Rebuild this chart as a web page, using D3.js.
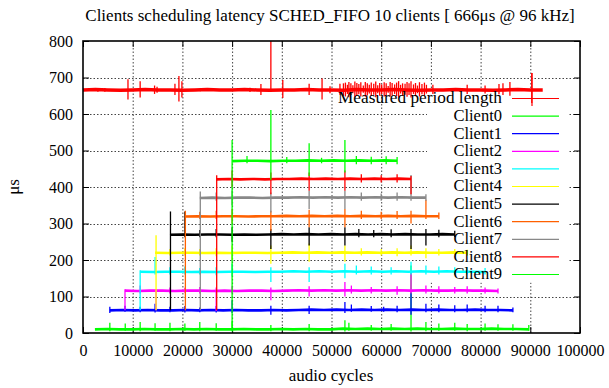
<!DOCTYPE html>
<html><head><meta charset="utf-8">
<script src="https://cdn.jsdelivr.net/npm/d3@7"></script>
<style>body{margin:0;background:#fff}svg{display:block}</style>
</head><body>
<script>
const titleText = "Clients scheduling latency SCHED_FIFO 10 clients [ 666μs @ 96 kHz]";
const xLabel = "audio cycles";
const yLabel = "μs";
const xTicks = [0,10000,20000,30000,40000,50000,60000,70000,80000,90000,100000];
const yTicks = [0,100,200,300,400,500,600,700,800];
const seriesNames = ["Measured period length","Client0","Client1","Client2","Client3","Client4","Client5","Client6","Client7","Client8","Client9"];
const seriesColors = ["#ff0000","#00ff00","#0000ff","#ff00ff","#00ffff","#ffff00","#000000","#ff6000","#888888","#ff0000","#00ff00"];
// first / last audio cycle of each series
const seriesStart = [0,2400,5400,8450,11500,14500,17500,20500,23500,26800,30000];
const seriesEnd = [92500,89700,86500,83500,80900,77300,74800,71600,69000,66000,63200];
// mean latency samples (evenly spaced between start and end)
const measuredValues = [666,667,666,665,666,667,666,666,665,666,667,666,666,667,666,665,666,666,667,666,666,665,667,666,666,667,666,665,666,666,667,666,666,665,666,667,666,666];
const client0Values = [10,11,10,10,11,10,10,11,10,11,10,10,11,10,10,11,10,11,10,10,12,11,12,11,12,11,12,11,11,12,11,11,12,11,11,10];
const client1Values = [62,63,62,63,62,62,63,62,63,62,63,62,62,63,62,63,64,63,64,63,64,63,64,63,64,63,64,63,63,64,63,63,62];
const client2Values = [116,115,116,116,115,116,116,115,116,115,116,116,115,116,117,116,117,116,117,116,117,116,117,116,117,116,116,117,116,116,115];
const client3Values = [168,167,168,168,167,168,167,168,168,167,168,168,169,168,169,168,169,168,169,168,169,168,169,168,169,168,168,167];
const client4Values = [220,219,220,220,219,220,219,220,220,219,220,221,220,221,220,221,220,221,220,221,220,221,220,220,221,220];
const client5Values = [269,270,269,270,270,269,270,269,270,271,270,271,270,271,270,271,270,271,270,271,270,270,271,270];
const client6Values = [319,320,319,320,320,319,320,320,321,320,321,320,321,320,321,320,321,320,321,320,320];
const client7Values = [370,371,370,371,371,370,371,371,372,371,372,371,372,371,372,371,372,371,371];
const client8Values = [421,422,421,422,421,422,422,423,422,423,422,423,422,423,422,423,422];
const client9Values = [471,472,472,471,472,472,473,472,473,472,473,472,473,472];
// error bars: [cycle, min, max]
const measuredBars = [[3000,661,671],[4400,661,671],[9050,640,695],[11500,645,690],[14400,655,678],[14900,658,675],[18500,652,683],[19300,634,704],[19900,645,690],[23600,662,670],[33600,660,672],[35800,652,682],[37800,660,830],[40200,644,693],[45500,652,683],[48100,640,697],[49700,657,676],[51700,653,683],
[52400,650,684],[52800,648,686],[53200,655,680],[53500,646,688],[53900,652,684],[54300,657,679],[54700,645,689],[55100,650,685],[55500,654,682],[55900,648,687],[56400,658,678],[56800,647,688],[57200,651,684],[57600,656,680],[58000,649,686],[58500,653,683],[58900,646,689],[59300,657,679],[59700,650,685],[60100,655,681],[60600,648,687],[61000,652,684],[61400,658,677],[61800,647,688],[62200,651,685],[62700,655,681],[63100,649,686],[63500,645,690],[63900,656,680],[64300,650,684],[64800,653,683],[65200,647,688],[65600,652,684],[66000,645,690],[66500,655,681],[66900,650,685],[67300,657,678],[67700,648,687],[68200,654,682],[68700,650,686],[69100,656,680],
[70400,655,680],[77300,655,680],[80900,656,678],[83700,654,682],[84500,652,684],[85900,650,688],[90300,630,712]];
const client0Bars = [[5400,5,28],[8500,6,26],[11500,5,30],[14500,6,27],[17500,5,28],[20500,6,26],[23500,5,30],[26800,6,27],[30000,4,32],[37800,5,22],[45500,5,25],[52700,4,35],[53500,6,28],[58000,6,22],[62000,6,25],[66000,4,185],[69000,5,30],[71600,6,26],[74800,6,28],[77300,5,25],[80900,6,26],[83500,6,24],[86500,6,24],[89700,6,22]];
const client1Bars = [[5400,55,72],[8450,58,75],[11500,57,72],[14500,56,80],[17500,57,72],[20500,56,74],[23500,57,70],[26800,56,74],[30000,55,90],[37800,50,75],[45500,52,75],[52700,55,85],[54000,58,78],[58000,58,74],[60500,58,72],[63200,57,75],[66000,50,110],[69000,57,80],[71600,57,78],[74800,57,76],[77300,57,78],[80900,57,75],[83500,57,75],[86500,57,70]];
const client2Bars = [[8450,62,120],[11500,108,130],[14700,62,120],[17500,108,125],[20500,110,124],[23500,108,126],[26800,60,125],[30000,108,128],[37800,90,125],[45500,100,128],[52700,100,140],[54000,108,130],[58000,108,126],[63200,105,128],[66000,108,165],[69000,108,130],[71600,108,128],[74800,108,126],[77300,108,128],[80900,108,125],[83500,108,122]];
const client3Bars = [[11500,62,172],[14500,160,208],[17500,160,180],[20500,160,182],[23500,160,178],[26800,158,180],[30000,155,190],[37800,140,180],[45500,140,180],[52700,150,190],[55000,160,185],[58000,160,182],[62000,160,180],[66000,160,195],[69000,160,185],[71600,160,182],[74800,160,180],[77300,160,180],[80900,160,178]];
const client4Bars = [[14700,62,268],[17500,212,230],[20500,212,232],[23500,212,230],[26800,210,232],[30000,200,240],[37800,190,240],[45500,195,245],[52700,195,240],[56000,212,232],[60000,212,230],[63200,210,232],[66000,212,240],[69000,205,232],[71600,212,230],[74800,212,230],[77300,212,228]];
const client5Bars = [[17600,62,333],[20500,262,333],[23500,262,282],[26800,262,285],[30000,250,290],[37800,230,285],[45500,240,290],[52700,240,290],[55500,262,285],[58500,262,282],[62000,262,284],[66000,230,285],[69000,240,285],[71600,262,283],[74800,262,280]];
const client6Bars = [[20600,62,335],[23500,312,332],[26800,312,335],[30000,300,340],[37800,280,335],[45500,290,338],[52700,290,340],[56000,312,335],[60000,312,332],[63200,312,334],[66000,300,335],[69000,312,365],[71600,312,330]];
const client7Bars = [[23600,62,388],[26800,362,385],[30000,350,390],[37800,330,385],[45500,340,390],[52700,340,390],[56000,362,385],[60000,362,382],[63200,362,385],[66000,362,433],[69000,362,380]];
const client8Bars = [[26900,62,432],[30000,400,445],[37800,380,440],[45500,390,440],[52700,390,445],[56000,412,435],[60000,412,432],[63200,412,435],[66000,380,430]];
const client9Bars = [[30000,10,529],[33000,465,485],[37800,420,611],[41000,465,482],[45500,430,520],[48000,465,480],[52700,440,529],[55000,462,485],[58000,462,483],[61000,462,484],[63200,462,482]];

const seriesValues = [measuredValues,client0Values,client1Values,client2Values,client3Values,client4Values,client5Values,client6Values,client7Values,client8Values,client9Values];
const seriesBars = [measuredBars,client0Bars,client1Bars,client2Bars,client3Bars,client4Bars,client5Bars,client6Bars,client7Bars,client8Bars,client9Bars];

const W = 609, H = 388;
const m = {left:83, right:29, top:41, bottom:55};
const iw = W - m.left - m.right, ih = H - m.top - m.bottom;
const x = d3.scaleLinear().domain([0,100000]).range([m.left, m.left+iw]);
const y = d3.scaleLinear().domain([0,800]).range([m.top+ih, m.top]);
const FONT = "Liberation Serif";

const svg = d3.select("body").append("svg").attr("width",W).attr("height",H);
svg.append("rect").attr("width",W).attr("height",H).attr("fill","#fff");
svg.append("defs").append("clipPath").attr("id","clip").append("rect")
  .attr("x",m.left).attr("y",m.top).attr("width",iw).attr("height",ih);

// grid
const grid = svg.append("g").attr("stroke","#444").attr("stroke-width",1).attr("stroke-dasharray","1.5,2");
grid.selectAll(".gx").data(xTicks.slice(1,-1)).join("line")
  .attr("x1",d=>x(d)+0.5).attr("x2",d=>x(d)+0.5).attr("y1",m.top).attr("y2",m.top+ih);
grid.selectAll(".gy").data(yTicks.slice(1,-1)).join("line")
  .attr("y1",d=>Math.round(y(d))+0.5).attr("y2",d=>Math.round(y(d))+0.5).attr("x1",m.left).attr("x2",m.left+iw);

// opaque key background
const keyX = 427, keyTop = 88, keyRowH = 17.6;
svg.append("rect").attr("x",keyX).attr("y",keyTop).attr("width",141).attr("height",keyRowH*11+1).attr("fill","#fff");

// axes: inward ticks, mirrored
const axB = svg.append("g").attr("transform",`translate(0,${m.top+ih})`)
  .call(d3.axisBottom(x).tickValues(xTicks).tickSize(-6).tickPadding(12).tickFormat(d3.format("d")));
const axT = svg.append("g").attr("transform",`translate(0,${m.top})`)
  .call(d3.axisTop(x).tickValues(xTicks).tickSize(-6).tickFormat(""));
const axL = svg.append("g").attr("transform",`translate(${m.left},0)`)
  .call(d3.axisLeft(y).tickValues(yTicks).tickSize(-6).tickPadding(12).tickFormat(d3.format("d")));
const axR = svg.append("g").attr("transform",`translate(${m.left+iw},0)`)
  .call(d3.axisRight(y).tickValues(yTicks).tickSize(-6).tickFormat(""));
[axB,axT,axL,axR].forEach(g=>{
  g.select(".domain").remove();
  g.attr("font-family",FONT).attr("font-size",16);
  g.selectAll("line").attr("stroke","#000").attr("stroke-width",1);
});
axB.selectAll("text").attr("dy","0.71em");
axL.selectAll("text").attr("x",-10);

// data series with error bars
const plot = svg.append("g").attr("clip-path","url(#clip)");
seriesValues.forEach((vals,i)=>{
  const s = seriesStart[i], e = seriesEnd[i], n = vals.length;
  const pts = vals.map((v,k)=>[s + k*(e-s)/(n-1), v]);
  const g = plot.append("g");
  g.selectAll("line").data(seriesBars[i]).join("line")
    .attr("x1",d=>x(d[0])).attr("x2",d=>x(d[0]))
    .attr("y1",d=>y(d[1])).attr("y2",d=>y(d[2]))
    .attr("stroke",seriesColors[i]).attr("stroke-width",1.3);
  g.append("path").datum(pts)
    .attr("d",d3.line().x(d=>x(d[0])).y(d=>y(d[1])))
    .attr("fill","none").attr("stroke",seriesColors[i]).attr("stroke-width", i===0?3.5:2.6);
});

// frame
svg.append("rect").attr("x",m.left).attr("y",m.top).attr("width",iw).attr("height",ih)
  .attr("fill","none").attr("stroke","#000").attr("stroke-width",1.6);

// key
const key = svg.append("g").attr("font-family",FONT).attr("font-size",16.5);
seriesNames.forEach((nm,i)=>{
  const cy = 98 + i*keyRowH;
  key.append("text").attr("x",502).attr("y",cy).attr("dy","0.33em").attr("text-anchor","end")
    .attr("textLength", i===0 ? 164 : null).attr("lengthAdjust","spacingAndGlyphs").text(nm);
  key.append("line").attr("x1",512).attr("x2",559).attr("y1",cy+0.5).attr("y2",cy+0.5)
    .attr("stroke",seriesColors[i]).attr("stroke-width",1.2);
  if(i===0){
    key.append("line").attr("x1",532).attr("x2",532).attr("y1",cy-25).attr("y2",cy+8)
      .attr("stroke",seriesColors[i]).attr("stroke-width",1.2);
  }
});

// titles
svg.append("text").attr("x",330).attr("y",21).attr("text-anchor","middle").attr("font-family",FONT).attr("font-size",17).text(titleText);
svg.append("text").attr("x",331).attr("y",381).attr("text-anchor","middle").attr("font-family",FONT).attr("font-size",17).text(xLabel);
svg.append("text").attr("transform","translate(19,187) rotate(-90)").attr("text-anchor","middle").attr("font-family",FONT).attr("font-size",17).text(yLabel);
</script>
</body></html>
